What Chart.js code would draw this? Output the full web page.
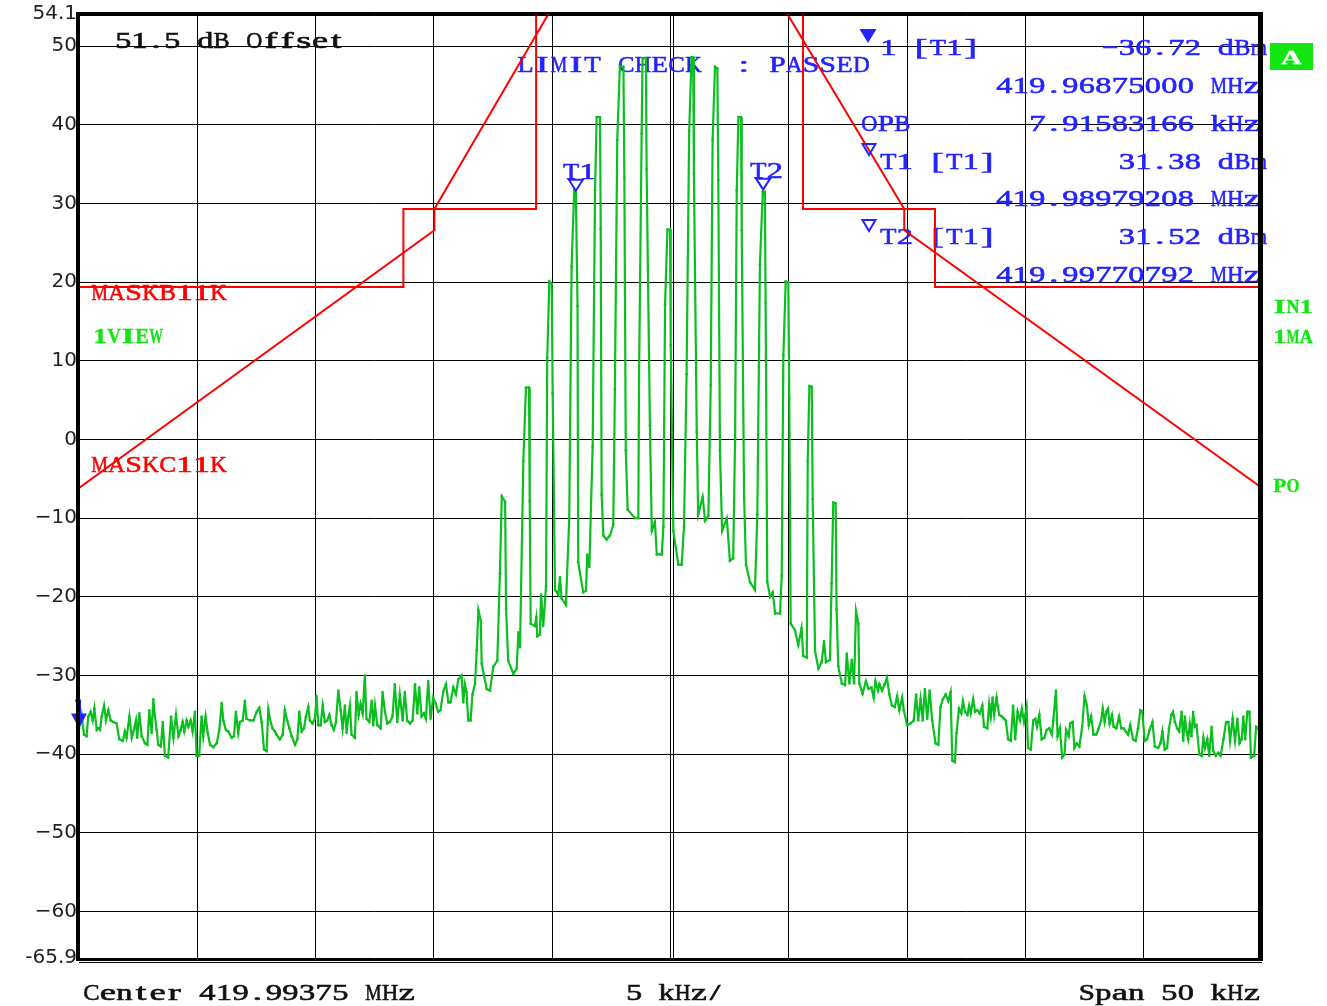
<!DOCTYPE html>
<html>
<head>
<meta charset="utf-8">
<script src="https://cdn.jsdelivr.net/npm/chart.js@4/dist/chart.umd.min.js"></script>
<style>
  html, body { margin: 0; padding: 0; background: #fff; }
  #plot { display: block; }
</style>
</head>
<body>
<canvas id="plot" width="1327" height="1006"></canvas>
<script>
// sweep settings
const START_MHZ = 419.96875;
const CENTER_MHZ = 419.99375;
const SPAN_KHZ = 50;
const DIV_KHZ = 5;
const REF_OFFSET_DB = 51.5;

// y axis: 54.1 dBm top, -65.9 dBm bottom
const yTickValues = [54.1, 50, 40, 30, 20, 10, 0, -10, -20, -30, -40, -50, -60, -65.9];
const yTickLabels = ['54.1', '50', '40', '30', '20', '10', '0', '\u221210', '\u221220', '\u221230', '\u221240', '\u221250', '\u221260', '-65.9'];

// trace 1, kHz from start frequency
const traceKHz = [
  0.00, 0.11, 0.21, 0.32, 0.39, 0.49, 0.58, 0.65, 0.75, 0.82, 0.89, 0.96,
  1.06, 1.14, 1.24, 1.34, 1.45, 1.59, 1.70, 1.85, 1.94, 2.01, 2.13, 2.23,
  2.32, 2.41, 2.46, 2.55, 2.65, 2.79, 2.89, 2.97, 3.07, 3.14, 3.21, 3.28,
  3.35, 3.46, 3.54, 3.63, 3.77, 3.89, 3.99, 4.10, 4.20, 4.30, 4.38, 4.45,
  4.55, 4.62, 4.72, 4.80, 4.90, 4.97, 5.08, 5.18, 5.25, 5.35, 5.44, 5.54,
  5.68, 5.82, 5.93, 6.03, 6.10, 6.21, 6.31, 6.45, 6.55, 6.63, 6.73, 6.80,
  6.92, 7.01, 7.08, 7.23, 7.37, 7.51, 7.62, 7.72, 7.82, 7.93, 8.00, 8.07,
  8.18, 8.28, 8.35, 8.49, 8.61, 8.70, 8.80, 8.89, 8.99, 9.13, 9.23, 9.31,
  9.41, 9.51, 9.59, 9.69, 9.76, 9.87, 9.97, 10.04, 10.11, 10.21, 10.30, 10.39,
  10.49, 10.58, 10.68, 10.77, 10.86, 10.96, 11.06, 11.14, 11.24, 11.31, 11.38, 11.45,
  11.52, 11.66, 11.73, 11.82, 11.90, 11.99, 12.08, 12.15, 12.27, 12.37, 12.44, 12.51,
  12.61, 12.75, 12.83, 12.93, 13.03, 13.14, 13.25, 13.35, 13.45, 13.56, 13.68, 13.77,
  13.87, 13.99, 14.10, 14.20, 14.30, 14.38, 14.48, 14.58, 14.66, 14.76, 14.86, 14.97,
  15.08, 15.18, 15.28, 15.39, 15.51, 15.61, 15.70, 15.82, 15.93, 16.03, 16.17, 16.24,
  16.31, 16.38, 16.45, 16.55, 16.63, 16.74,
  16.81, 16.88, 16.98, 17.02, 17.23, 17.37, 17.51, 17.68, 17.79, 17.87, 18.01, 18.05,
  18.14, 18.36, 18.50, 18.57, 18.64, 18.78, 18.89, 19.02, 19.05, 19.09, 19.27, 19.33,
  19.37, 19.48, 19.53, 19.62, 19.74, 19.79, 19.88, 19.98, 20.02, 20.12, 20.26, 20.33,
  20.40, 20.58, 20.72, 20.82, 20.93, 21.00, 21.07, 21.10, 21.31, 21.43, 21.48, 21.57,
  21.71, 21.81, 21.88, 22.02, 22.05, 22.09, 22.16, 22.30, 22.44, 22.58, 22.65, 22.75,
  22.86, 23.01, 23.05, 23.11, 23.19, 23.50, 23.64, 23.67, 23.78, 23.82, 23.96, 23.99,
  24.13, 24.21, 24.34, 24.42, 24.63, 24.70, 24.77, 24.87, 24.98, 25.01, 25.12, 25.33,
  25.47, 25.57, 25.68, 25.79, 25.89, 25.96, 25.99, 26.11, 26.17, 26.36, 26.46, 26.60,
  26.70, 26.78, 26.88, 26.98, 27.02, 27.09, 27.18, 27.38, 27.51, 27.65, 27.73, 27.80,
  27.87, 27.98, 28.01, 28.11, 28.19, 28.36, 28.57, 28.67, 28.78, 28.90, 28.99, 29.02,
  29.09, 29.21, 29.32, 29.42, 29.63, 29.70, 29.77, 29.87, 29.98, 30.02, 30.08, 30.26,
  30.40, 30.54, 30.61, 30.76, 30.80, 30.87, 30.97, 31.01, 31.11, 31.25, 31.39, 31.49,
  31.57, 31.74, 31.81, 31.88, 31.98, 32.02, 32.09, 32.24, 32.38, 32.45, 32.56, 32.66,
  32.76, 32.84, 32.94, 32.98, 33.12,
  33.26, 33.37, 33.49, 33.59, 33.66, 33.77, 33.83, 33.94, 34.05, 34.15, 34.25, 34.36,
  34.48, 34.58, 34.67, 34.79, 34.86, 35.00, 35.14, 35.28, 35.38, 35.47, 35.57, 35.66,
  35.75, 35.85, 35.95, 36.06, 36.20, 36.32, 36.41, 36.51, 36.63, 36.74, 36.84, 36.91,
  37.02, 37.09, 37.19, 37.29, 37.36, 37.45, 37.55, 37.62, 37.69, 37.79, 37.87, 37.97,
  38.07, 38.18, 38.25, 38.39, 38.47, 38.54, 38.61, 38.68, 38.78, 38.89, 39.00, 39.10,
  39.17, 39.27, 39.38, 39.48, 39.57, 39.67, 39.77, 39.85, 39.94, 40.05, 40.11, 40.23,
  40.33, 40.42, 40.49, 40.59, 40.69, 40.80, 40.90, 41.01, 41.12, 41.18, 41.29, 41.36,
  41.46, 41.55, 41.65, 41.72, 41.83, 41.89, 42.00, 42.07, 42.17, 42.28, 42.40, 42.50,
  42.60, 42.68, 42.78, 42.88, 42.99, 43.10, 43.20, 43.27, 43.35, 43.42, 43.49, 43.56,
  43.66, 43.73, 43.84, 43.96, 44.05, 44.15, 44.24, 44.34, 44.43, 44.55, 44.66, 44.76,
  44.86, 44.94, 45.04, 45.14, 45.25, 45.37, 45.47, 45.61, 45.71, 45.79, 45.89, 45.99,
  46.07, 46.17, 46.24, 46.32, 46.41, 46.50, 46.60, 46.67, 46.74, 46.81, 46.88, 46.95,
  47.02, 47.09, 47.16, 47.23, 47.35, 47.45, 47.52, 47.59, 47.69, 47.77, 47.87, 47.94,
  48.05, 48.15, 48.25, 48.37, 48.48, 48.58, 48.65, 48.76, 48.86, 48.96, 49.05, 49.14,
  49.21, 49.29, 49.38, 49.47, 49.53, 49.67, 49.75, 49.85, 50.00
];

const traceDbm = [
  -36.7, -35.0, -37.5, -37.7, -35.2, -34.6, -35.7, -34.2, -36.9, -36.7, -36.9, -35.2,
  -33.8, -35.7, -34.4, -35.7, -35.9, -36.1, -38.1, -38.3, -37.1, -37.9, -35.2, -37.9,
  -36.9, -35.7, -37.9, -34.8, -37.7, -38.6, -38.8, -34.4, -37.3, -33.0, -35.2, -36.9,
  -38.8, -39.0, -35.9, -40.2, -40.4, -35.2, -37.9, -35.0, -37.7, -36.9, -35.9, -37.1,
  -35.7, -36.5, -35.7, -37.1, -34.6, -40.2, -40.2, -35.2, -37.7, -35.2, -37.3, -38.8,
  -39.1, -38.6, -36.9, -33.5, -35.7, -36.9, -37.1, -37.9, -37.7, -34.6, -37.3, -35.9,
  -35.7, -33.2, -35.5, -35.7, -35.7, -34.6, -34.1, -35.9, -39.4, -39.6, -34.3, -35.5,
  -36.7, -37.1, -37.5, -38.1, -37.5, -34.4, -35.7, -36.7, -37.7, -38.8, -38.1, -34.6,
  -37.1, -36.7, -35.2, -34.0, -35.7, -36.1, -35.5, -32.6, -36.3, -36.3, -33.8, -35.9,
  -35.7, -35.0, -36.3, -36.9, -35.9, -31.9, -34.4, -36.7, -33.8, -37.3, -35.2, -33.8,
  -37.5, -37.9, -32.1, -35.0, -33.6, -34.8, -30.0, -35.5, -35.9, -33.2, -36.3, -33.8,
  -36.3, -36.7, -32.1, -34.6, -36.1, -35.9, -35.2, -31.1, -35.9, -32.4, -35.7, -32.1,
  -35.7, -36.1, -35.7, -31.1, -34.8, -31.5, -35.2, -34.8, -35.5, -30.7, -35.5, -32.8,
  -33.6, -34.6, -34.4, -32.1, -31.1, -33.4, -33.4, -31.5, -32.4, -30.5, -30.0, -33.4,
  -31.1, -32.1, -35.7, -35.7, -32.4, -31.0,
  -26.8, -21.7, -23.0, -28.5, -31.7, -31.9, -28.9, -28.1, -17.0, -7.2, -7.9, -21.5,
  -28.1, -29.8, -29.1, -24.5, -26.4, -2.7, 6.6, 6.6, -7.8, -23.4, -23.7, -22.6,
  -25.0, -24.8, -19.7, -23.7, -18.6, 10.4, 20.1, 19.8, 5.9, -19.1, -19.7, -17.5,
  -20.2, -21.0, -10.0, 22.0, 31.7, 31.4, 17.0, -15.6, -19.4, -19.2, -14.6, -16.2,
  -0.9, 31.7, 41.0, 41.0, 26.8, -7.0, -12.2, -12.7, -12.2, -10.8, 6.4, 38.1,
  47.4, 47.4, 33.3, -1.4, -8.9, -10.0, -10.0, 7.7, 38.9, 48.5, 48.5, 34.4,
  1.8, -11.6, -10.5, -14.6, -14.6, -11.1, 17.2, 26.7, 26.7, 12.0, -11.6, -15.9,
  -15.9, -11.1, 8.3, 39.2, 48.6, 48.6, 33.8, 1.0, -9.5, -7.3, -10.3, -9.7,
  6.9, 38.1, 47.4, 47.2, 33.0, -1.4, -11.6, -10.0, -15.4, -15.1, 0.2, 31.7,
  41.0, 41.0, 26.6, -7.3, -15.9, -18.1, -19.1, -9.5, 22.3, 31.5, 31.5, 17.4,
  -18.1, -20.0, -19.4, -22.1, -22.1, -17.3, 10.7, 20.1, 20.0, 5.3, -23.4, -24.2,
  -26.1, -24.0, -27.5, -27.7, -2.7, 6.8, 6.7, -7.6, -26.9, -29.1, -28.3, -25.6,
  -28.3, -28.0, -18.3, -8.0, -8.1, -21.6, -28.8, -31.0, -31.2, -27.2, -31.0, -28.0,
  -31.0, -21.8, -23.4, -31.0, -32.3,
  -30.7, -31.7, -31.5, -32.8, -30.7, -31.9, -31.1, -31.9, -31.1, -30.3, -32.4, -33.8,
  -34.0, -32.6, -34.4, -32.8, -34.4, -36.3, -36.1, -35.7, -32.4, -35.7, -33.0, -35.7,
  -31.7, -35.5, -31.9, -35.7, -38.6, -38.8, -34.0, -33.0, -32.4, -33.2, -32.1, -40.8,
  -41.0, -37.3, -34.2, -34.8, -33.2, -34.6, -35.0, -33.8, -34.8, -33.0, -34.6, -34.4,
  -34.8, -33.8, -36.5, -36.7, -33.6, -35.2, -32.8, -35.0, -32.8, -35.0, -35.2, -35.5,
  -35.7, -38.1, -38.3, -33.8, -38.1, -34.6, -35.7, -34.2, -35.9, -34.0, -39.2, -39.4,
  -35.7, -35.5, -36.5, -35.0, -38.1, -37.9, -36.9, -36.7, -37.5, -35.7, -31.9, -37.7,
  -36.7, -40.4, -40.0, -36.9, -37.7, -36.1, -35.9, -39.2, -38.6, -39.0, -36.5, -32.6,
  -33.8, -36.3, -35.2, -37.5, -37.5, -36.7, -35.7, -34.2, -35.9, -34.6, -34.2, -36.1,
  -35.0, -36.5, -36.7, -35.2, -36.7, -36.7, -37.1, -37.5, -36.3, -38.1, -38.3, -36.7,
  -34.4, -34.6, -38.3, -38.1, -36.9, -35.9, -39.0, -39.2, -38.6, -37.1, -39.4, -39.2,
  -36.7, -35.0, -34.6, -35.9, -36.7, -37.1, -34.6, -38.3, -35.2, -37.1, -38.1, -36.1,
  -37.7, -34.6, -36.5, -36.3, -40.0, -40.2, -37.9, -39.2, -38.1, -40.2, -36.5, -39.6,
  -40.2, -39.8, -40.2, -38.1, -35.9, -35.9, -38.3, -35.5, -38.3, -35.5, -38.6, -38.1,
  -35.2, -38.1, -34.6, -34.6, -40.4, -40.2, -36.5, -36.7, -38.1
];

// limit lines (null = gap between left and right halves)
const maskBKHz = [0, 13.71, 13.71, 19.32, 19.32, 25, 30.60, 30.60, 36.18, 36.18, 50];
const maskBDbm = [19.4, 19.4, 29.3, 29.3, 54.1, null, 54.1, 29.3, 29.3, 19.4, 19.4];
const maskCKHz = [0, 15.02, 15.02, 19.84, 25, 29.94, 34.88, 34.88, 50];
const maskCDbm = [-6.15, 26.6, 29.3, 54.1, null, 54.1, 29.3, 26.6, -6.15];

// markers
const markerNames = ['1', 'T1', 'T2'];
const markerKHz = [0, 21.04208, 28.95792];
const markerDbm = [-36.72, 31.38, 31.52];
const obwKHz = 7.91583166;

const BLUE = '#2323ff';
const GREEN = '#0abf1f';
const BRIGHT_GREEN = '#12e612';
const RED = '#ff0000';

function toPoints(xs, ys) {
    return xs.map((x, i) => ({ x: x, y: ys[i] }));
}

function fmtDbm(v) {
    const s = Math.abs(v).toFixed(2) + ' dBm';
    return v < 0 ? '\u2212' + s : s;
}

function fmtMhz(kHz) {
    return (START_MHZ + kHz / 1000).toFixed(8) + ' MHz';
}

// fixed pitch text, one glyph per cell, stretched like the analyser font
function monoText(ctx, str, x, y, o) {
    const cell = o.cell || 16.5;
    const size = o.size || 24;
    ctx.save();
    ctx.font = (o.bold ? 'bold ' : '') + size + 'px "Liberation Serif", "DejaVu Serif", serif';
    ctx.fillStyle = o.color || '#000';
    ctx.strokeStyle = o.color || '#000';
    ctx.lineWidth = o.bold ? 0.3 : 0.6;
    ctx.textAlign = 'center';
    ctx.textBaseline = 'alphabetic';
    let x0 = x;
    const total = str.length * cell;
    if (o.align === 'right') x0 = x - total;
    else if (o.align === 'center') x0 = x - total / 2;
    if (o.clipRight) {
        ctx.beginPath();
        ctx.rect(0, 0, o.clipRight, 1006);
        ctx.clip();
    }
    for (let i = 0; i < str.length; i++) {
        const ch = str[i];
        if (ch === ' ') continue;
        const w = ctx.measureText(ch).width || 1;
        const sx = Math.min(o.maxSx || 1.6, cell * 0.98 / w);
        ctx.save();
        ctx.translate(x0 + (i + 0.5) * cell, y);
        ctx.scale(sx, 1);
        ctx.fillText(ch, 0, 0);
        ctx.strokeText(ch, 0, 0);
        ctx.restore();
    }
    ctx.restore();
}

function triangle(ctx, cx, tipY, w, h, filled, color) {
    ctx.save();
    ctx.beginPath();
    ctx.moveTo(cx - w / 2, tipY - h);
    ctx.lineTo(cx + w / 2, tipY - h);
    ctx.lineTo(cx, tipY);
    ctx.closePath();
    if (filled) {
        ctx.fillStyle = color;
        ctx.fill();
    } else {
        ctx.strokeStyle = color;
        ctx.lineWidth = 2;
        ctx.stroke();
    }
    ctx.restore();
}

const overlay = {
    id: 'overlay',
    beforeDatasetsDraw(chart) {
        const ctx = chart.ctx;
        const a = chart.chartArea;

        // second line at centre frequency
        const xc = chart.scales.x.getPixelForValue(SPAN_KHZ / 2);
        ctx.save();
        ctx.strokeStyle = '#000';
        ctx.lineWidth = 1;
        ctx.beginPath();
        ctx.moveTo(Math.round(xc) + 2.5, a.top);
        ctx.lineTo(Math.round(xc) + 2.5, a.bottom);
        ctx.stroke();
        ctx.restore();

        monoText(ctx, REF_OFFSET_DB.toFixed(1) + ' dB Offset', 115, 48, { color: '#111', cell: 16.4, size: 24 });
        monoText(ctx, 'LIMIT CHECK  : PASSED', 517, 72, { color: BLUE, cell: 16.8, size: 24 });

        // marker table
        monoText(ctx, markerNames[0] + ' [T1]', 880, 55, { color: BLUE });
        monoText(ctx, fmtDbm(markerDbm[0]), 1267, 55, { color: BLUE, align: 'right' });
        monoText(ctx, fmtMhz(markerKHz[0]), 1260, 93, { color: BLUE, align: 'right' });
        monoText(ctx, 'OPB', 861, 131, { color: BLUE });
        monoText(ctx, obwKHz.toFixed(8) + ' kHz', 1260, 131, { color: BLUE, align: 'right' });
        monoText(ctx, markerNames[1] + ' [T1]', 880, 169, { color: BLUE });
        monoText(ctx, fmtDbm(markerDbm[1]), 1267, 169, { color: BLUE, align: 'right' });
        monoText(ctx, fmtMhz(markerKHz[1]), 1260, 206, { color: BLUE, align: 'right' });
        monoText(ctx, markerNames[2] + ' [T1]', 880, 244, { color: BLUE });
        monoText(ctx, fmtDbm(markerDbm[2]), 1267, 244, { color: BLUE, align: 'right' });
        monoText(ctx, fmtMhz(markerKHz[2]), 1260, 282, { color: BLUE, align: 'right' });

        // limit line names and trace info
        monoText(ctx, 'MASKB11K', 91, 300, { color: RED, cell: 17 });
        monoText(ctx, '1VIEW', 93, 343, { color: BRIGHT_GREEN, cell: 14, size: 20, bold: true, clipRight: 164 });
        monoText(ctx, 'MASKC11K', 91, 472, { color: RED, cell: 17 });
    },
    afterDatasetsDraw(chart) {
        const ctx = chart.ctx;
        const a = chart.chartArea;
        const xs = chart.scales.x;
        const ys = chart.scales.y;

        // markers on the trace
        for (let i = 0; i < markerNames.length; i++) {
            const px = xs.getPixelForValue(markerKHz[i]);
            const py = ys.getPixelForValue(markerDbm[i]);
            if (i === 0) {
                triangle(ctx, px, py, 16, 15, true, BLUE);
                ctx.save();
                ctx.strokeStyle = BLUE;
                ctx.lineWidth = 2;
                ctx.beginPath();
                ctx.moveTo(px + 1, py - 15);
                ctx.lineTo(px + 1, py - 28);
                ctx.lineTo(px - 4, py - 28);
                ctx.stroke();
                ctx.restore();
            } else {
                triangle(ctx, px - 1, py - 2, 14, 11, false, BLUE);
                monoText(ctx, markerNames[i], px - 14, py - 14, { color: BLUE, cell: 16.5, size: 24 });
            }
        }

        // marker table symbols
        triangle(ctx, 868, 43, 17, 14, true, BLUE);
        triangle(ctx, 869, 155, 13, 11, false, BLUE);
        triangle(ctx, 869, 231, 13, 11, false, BLUE);

        // frame
        ctx.save();
        ctx.fillStyle = '#000';
        ctx.fillRect(a.left - 3, a.top - 2, 4, a.bottom - a.top + 5);
        ctx.fillRect(a.right - 4, a.top - 2, 5, a.bottom - a.top + 5);
        ctx.fillRect(a.left - 3, a.top - 2, a.right - a.left + 4, 2);
        ctx.fillRect(a.left, a.top + 1, a.right - a.left, 1);
        ctx.fillRect(a.left - 3, a.bottom + 1, a.right - a.left + 4, 2);
        ctx.fillRect(a.left, a.bottom + 4, a.right - a.left, 1);
        ctx.restore();

        // status box and side labels
        ctx.save();
        ctx.fillStyle = BRIGHT_GREEN;
        ctx.fillRect(1270, 43, 43, 27);
        ctx.restore();
        monoText(ctx, 'A', 1291.5, 64, { color: '#fff', cell: 22, size: 18, bold: true, align: 'center', maxSx: 1.6 });
        monoText(ctx, 'IN1', 1273, 313, { color: BRIGHT_GREEN, cell: 13.3, size: 19, bold: true });
        monoText(ctx, '1MA', 1273, 343, { color: BRIGHT_GREEN, cell: 13.3, size: 19, bold: true, clipRight: 1314 });
        monoText(ctx, 'PO', 1273, 492, { color: BRIGHT_GREEN, cell: 13.3, size: 19, bold: true });

        // bottom annotation
        monoText(ctx, 'Center ' + CENTER_MHZ.toFixed(5) + ' MHz', 83, 1000, { color: '#111', cell: 16.6 });
        monoText(ctx, DIV_KHZ + ' kHz/', 626, 1000, { color: '#111', cell: 16.2 });
        monoText(ctx, 'Span ' + SPAN_KHZ + ' kHz', 1260, 1000, { color: '#111', cell: 16.5, align: 'right' });
    }
};

const canvas = document.getElementById('plot');
const chart = new Chart(canvas, {
    type: 'line',
    data: {
        datasets: [
            {
                label: 'Trace 1',
                data: toPoints(traceKHz, traceDbm),
                borderColor: GREEN,
                backgroundColor: GREEN,
                borderWidth: 2.2,
                pointRadius: 1.3,
                pointBorderWidth: 0,
                tension: 0
            },
            {
                label: 'MASKB11K',
                data: toPoints(maskBKHz, maskBDbm),
                borderColor: RED,
                borderWidth: 2,
                pointRadius: 0,
                spanGaps: false,
                tension: 0
            },
            {
                label: 'MASKC11K',
                data: toPoints(maskCKHz, maskCDbm),
                borderColor: RED,
                borderWidth: 2,
                pointRadius: 0,
                spanGaps: false,
                tension: 0
            }
        ]
    },
    options: {
        animation: false,
        responsive: false,
        devicePixelRatio: 1,
        layout: { padding: { top: 14, right: 65, left: 0, bottom: 0 } },
        scales: {
            x: {
                type: 'linear',
                min: 0,
                max: SPAN_KHZ,
                ticks: { display: false, stepSize: DIV_KHZ },
                grid: { color: '#000', lineWidth: 1, drawTicks: false },
                border: { display: false },
                afterFit: s => { s.height = 48; }
            },
            y: {
                type: 'linear',
                min: -65.9,
                max: 54.1,
                afterBuildTicks: s => { s.ticks = yTickValues.map(v => ({ value: v })); },
                ticks: {
                    autoSkip: false,
                    padding: 2,
                    color: '#222',
                    font: { family: 'DejaVu Sans', size: 20 },
                    callback: (v, i) => yTickLabels[i]
                },
                grid: { color: '#000', lineWidth: 1, drawTicks: false },
                border: { display: false },
                afterFit: s => { s.width = 79; }
            }
        },
        plugins: {
            legend: { display: false },
            tooltip: { enabled: false }
        }
    },
    plugins: [overlay]
});
</script>
</body>
</html>
